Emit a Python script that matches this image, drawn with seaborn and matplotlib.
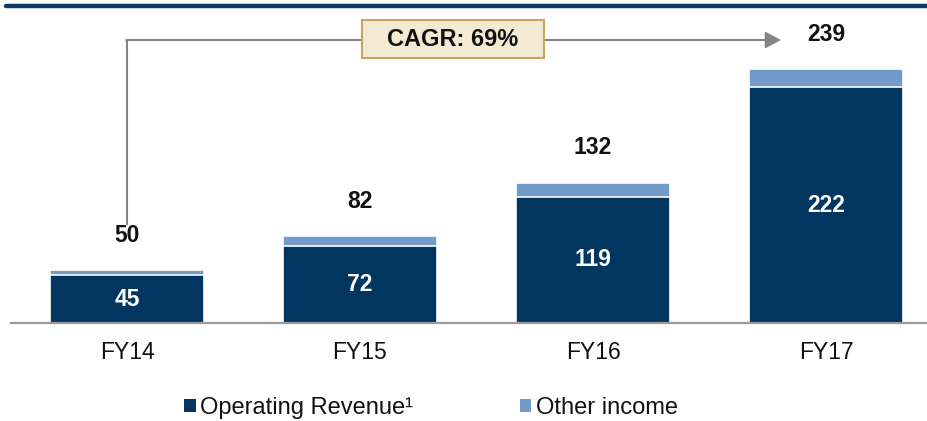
import matplotlib
matplotlib.use("Agg")
import matplotlib.pyplot as plt
import seaborn as sns
import pandas as pd
from matplotlib.patches import Patch, Rectangle
from matplotlib.lines import Line2D

categories = ["FY14", "FY15", "FY16", "FY17"]
operating_revenue = [45, 72, 119, 222]
other_income = [5, 10, 13, 17]
totals = [50, 82, 132, 239]
cagr_label = "CAGR: 69%"
legend_labels = ["Operating Revenue\u00b9", "Other income"]

NAVY = "#02355F"
LIGHT = "#729BC9"
GREY = "#9A9A9A"

sns.set_theme(style="white")
plt.rcParams["font.family"] = ["Liberation Sans", "DejaVu Sans"]

df = pd.DataFrame({"cat": categories, "op": operating_revenue,
                   "other": other_income, "total": totals})

W, H = 928, 421
fig = plt.figure(figsize=(W / 100, H / 100), dpi=100)
# axes: baseline at y=323 px from top, x from 11 to 928 px
ax = fig.add_axes([11 / W, (H - 323) / H, (W - 11) / W, 323 / H])

barw = 0.661
sns.barplot(data=df, x="cat", y="total", color=LIGHT, width=barw,
            edgecolor="white", linewidth=1.2, saturation=1, ax=ax, zorder=2)
sns.barplot(data=df, x="cat", y="op", color=NAVY, width=barw,
            edgecolor="white", linewidth=1.2, saturation=1, ax=ax, zorder=3)

px_per_unit = 1.063
ax.set_xlim((11 - 127) / 233, (928 - 127) / 233)
ax.set_ylim(0, 323 / px_per_unit)

for s in ["top", "right", "left"]:
    ax.spines[s].set_visible(False)
ax.spines["bottom"].set_color(GREY)
ax.spines["bottom"].set_linewidth(1.6)
ax.spines["bottom"].set_zorder(5)
ax.set_yticks([])
ax.set_xlabel("")
ax.set_ylabel("")
ax.tick_params(axis="x", length=0, pad=13, labelsize=16.5, labelcolor="#111111")

# value labels
for i, (o, t) in enumerate(zip(operating_revenue, totals)):
    ax.text(i, o / 2, str(o), ha="center", va="center", color="white",
            fontsize=16.5, fontweight="bold", zorder=6)
    ax.annotate(str(t), xy=(i, t), xytext=(0, 25), textcoords="offset points",
                ha="center", va="center", fontsize=16.5, fontweight="bold",
                color="#111111")

# CAGR arrow
y_top = (323 - 40) / px_per_unit
y_bot = (323 - 225) / px_per_unit
x_tip = (781 - 127) / 233
ax.plot([0, 0], [y_bot, y_top], color="#858585", lw=1.5, zorder=4,
        solid_capstyle="butt", clip_on=False)
ax.annotate("", xy=(x_tip, y_top), xytext=(-0.003, y_top),
            arrowprops=dict(arrowstyle="-|>,head_length=0.47,head_width=0.25",
                            mutation_scale=20, color="#858585", lw=1.5,
                            shrinkA=0, shrinkB=0),
            zorder=4, annotation_clip=False)

# CAGR box
bx_c = (453 - 127) / 233
by_c = (323 - 39) / px_per_unit
bw = 182 / 233
bh = 38 / px_per_unit
ax.add_patch(Rectangle((bx_c - bw / 2, by_c - bh / 2), bw, bh,
                       facecolor="#F4EAD3", edgecolor="#C9A75A", lw=1.5,
                       zorder=6, clip_on=False))
ax.text(bx_c, by_c, cagr_label, ha="center", va="center", fontsize=17,
        fontweight="bold", color="#111111", zorder=7)

# top rule
fig.add_artist(Line2D([6 / W, 1], [1 - 5.5 / H, 1 - 5.5 / H], color="#0B3A66",
                      lw=3.2, transform=fig.transFigure))

# legend
handles = [Patch(facecolor=NAVY, edgecolor="none"),
           Patch(facecolor=LIGHT, edgecolor="none")]
fig.legend(handles, legend_labels, loc="center",
           bbox_to_anchor=(431 / W, 1 - 408 / H), ncol=2, frameon=False,
           fontsize=17, handlelength=0.5, handleheight=0.5,
           handletextpad=0.2, columnspacing=4.5, labelcolor="#111111")

fig.savefig("out.png", dpi=100)
